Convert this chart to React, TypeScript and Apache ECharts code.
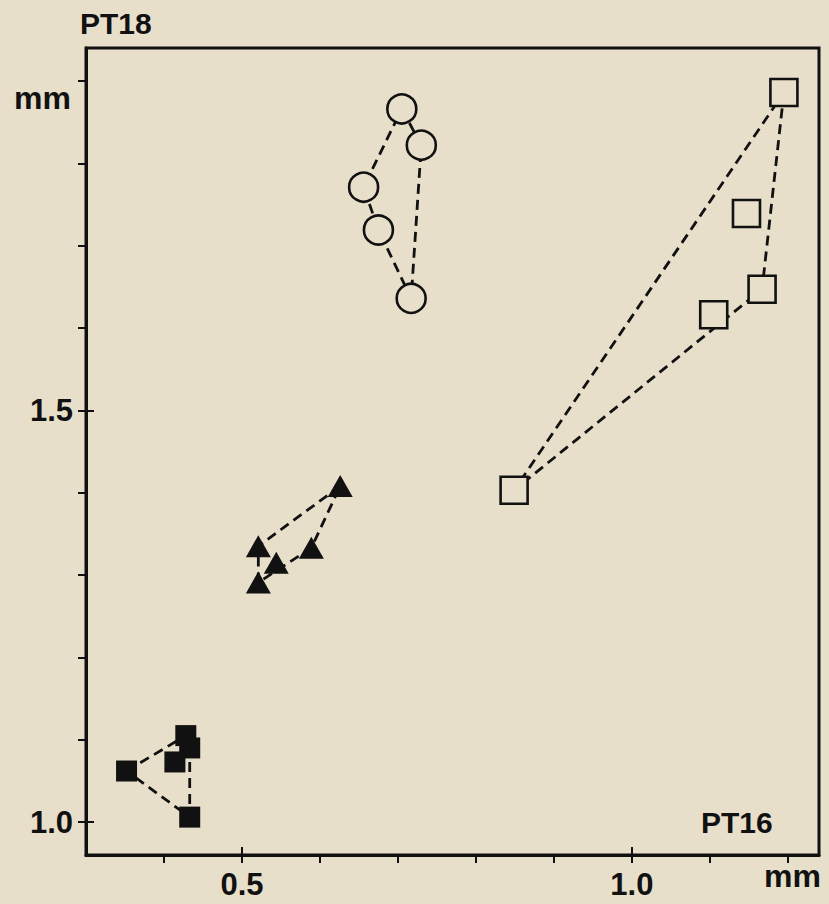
import React, { useEffect, useRef } from "react";
import * as echarts from "echarts";

// PT16 (x) vs PT18 (y), mm
const openCircles: [number, number][] = [
  [0.705, 1.866],
  [0.73, 1.822],
  [0.656, 1.771],
  [0.675, 1.719],
  [0.717, 1.636],
];
const openSquares: [number, number][] = [
  [1.195, 1.886],
  [1.147, 1.739],
  [1.167, 1.647],
  [1.105, 1.616],
  [0.849, 1.403],
];
const triangles: [number, number][] = [
  [0.626, 1.408],
  [0.521, 1.335],
  [0.589, 1.333],
  [0.544, 1.315],
  [0.521, 1.291],
];
const filledSquares: [number, number][] = [
  [0.352, 1.062],
  [0.428, 1.105],
  [0.433, 1.09],
  [0.414, 1.073],
  [0.433, 1.006],
];

// hull outlines (indices into each group, closed)
const circleHull = [0, 1, 4, 3, 2, 0];
const squareHull = [0, 2, 4, 0];
const triangleHull = [0, 1, 4, 2, 0];
const filledHull = [0, 1, 2, 4, 0];

const xTickValues = [0.4, 0.5, 0.6, 0.7, 0.8, 0.9, 1.0, 1.1, 1.2];
const yTickValues = [1.0, 1.1, 1.2, 1.3, 1.4, 1.5, 1.6, 1.7, 1.8, 1.9];
const xLabelValues = [0.5, 1.0];
const yLabelValues = [1.0, 1.5];
const xMajor = [0.5, 1.0];
const yMajor = [1.0, 1.5];

const BG = "#e7dfca";
const INK = "#111111";
const FONT = "'Liberation Sans', Arial, sans-serif";

export default function App() {
  const ref = useRef<HTMLDivElement>(null);
  useEffect(() => {
    if (!ref.current) return;
    const chart = echarts.init(ref.current, null, { renderer: "svg" });
    const hull = (pts: [number, number][], idx: number[]) => idx.map((i) => pts[i]);
    const dashed = (name: string, data: [number, number][]) => ({
      name,
      type: "line",
      data,
      symbol: "none",
      z: 1,
      lineStyle: { color: INK, width: 2.8, type: [10, 6] },
    });
    const grid = { left: 86, right: 10, top: 48, bottom: 49 };
    const xBase = { type: "value", min: 0.3, max: 1.24, gridIndex: 0, splitLine: { show: false } };
    const yBase = { type: "value", min: 0.96, max: 1.94, gridIndex: 0, splitLine: { show: false } };
    const labelStyle = {
      color: INK,
      fontSize: 31,
      fontFamily: FONT,
      fontWeight: "bold",
    };
    chart.setOption({
      animation: false,
      backgroundColor: BG,
      grid: { ...grid, show: true, borderColor: INK, borderWidth: 3, backgroundColor: "transparent" },
      xAxis: [
        {
          ...xBase,
          position: "bottom",
          axisLine: { show: true, lineStyle: { color: INK, width: 3 } },
          axisTick: { show: true, inside: false, length: 8, customValues: xTickValues, lineStyle: { color: INK, width: 2 } },
          axisLabel: {
            show: true,
            customValues: xLabelValues,
            formatter: (v: number) => v.toFixed(1),
            ...labelStyle,
            margin: 14,
          },
        },
        {
          ...xBase,
          position: "bottom",
          axisLine: { show: false },
          axisTick: { show: true, inside: true, length: 8, customValues: xMajor, lineStyle: { color: INK, width: 2 } },
          axisLabel: { show: false },
        },
      ],
      yAxis: [
        {
          ...yBase,
          position: "left",
          axisLine: { show: true, lineStyle: { color: INK, width: 3 } },
          axisTick: { show: true, inside: false, length: 8, customValues: yTickValues, lineStyle: { color: INK, width: 2 } },
          axisLabel: {
            show: true,
            customValues: yLabelValues,
            formatter: (v: number) => v.toFixed(1),
            ...labelStyle,
            margin: 13,
          },
        },
        {
          ...yBase,
          position: "left",
          axisLine: { show: false },
          axisTick: { show: true, inside: true, length: 8, customValues: yMajor, lineStyle: { color: INK, width: 2 } },
          axisLabel: { show: false },
        },
      ],
      graphic: [
        { type: "text", left: 80, top: 8, style: { text: "PT18", fill: INK, font: `bold 30px ${FONT}` } },
        { type: "text", left: 14, top: 82, style: { text: "mm", fill: INK, font: `bold 32px ${FONT}` } },
        { type: "text", left: 701, top: 807, style: { text: "PT16", fill: INK, font: `bold 30px ${FONT}` } },
        { type: "text", left: 764, top: 860, style: { text: "mm", fill: INK, font: `bold 32px ${FONT}` } },
      ],
      series: [
        dashed("circleHull", hull(openCircles, circleHull)),
        dashed("squareHull", hull(openSquares, squareHull)),
        dashed("triangleHull", hull(triangles, triangleHull)),
        dashed("filledHull", hull(filledSquares, filledHull)),
        {
          name: "open circles",
          type: "scatter",
          data: openCircles,
          symbol: "circle",
          symbolSize: 29,
          z: 3,
          itemStyle: { color: BG, borderColor: INK, borderWidth: 2.6, opacity: 1 },
        },
        {
          name: "open squares",
          type: "scatter",
          data: openSquares,
          symbol: "rect",
          symbolSize: 27,
          z: 3,
          itemStyle: { color: BG, borderColor: INK, borderWidth: 2.6, opacity: 1 },
        },
        {
          name: "triangles",
          type: "scatter",
          data: triangles,
          symbol: "triangle",
          symbolSize: [25, 22],
          z: 3,
          itemStyle: { color: INK, opacity: 1 },
        },
        {
          name: "filled squares",
          type: "scatter",
          data: filledSquares,
          symbol: "rect",
          symbolSize: 21,
          z: 3,
          itemStyle: { color: INK, opacity: 1 },
        },
      ],
    });
    return () => chart.dispose();
  }, []);
  return (
    <div
      ref={ref}
      style={{ position: "fixed", left: 0, top: 0, width: 829, height: 904 }}
    />
  );
}
